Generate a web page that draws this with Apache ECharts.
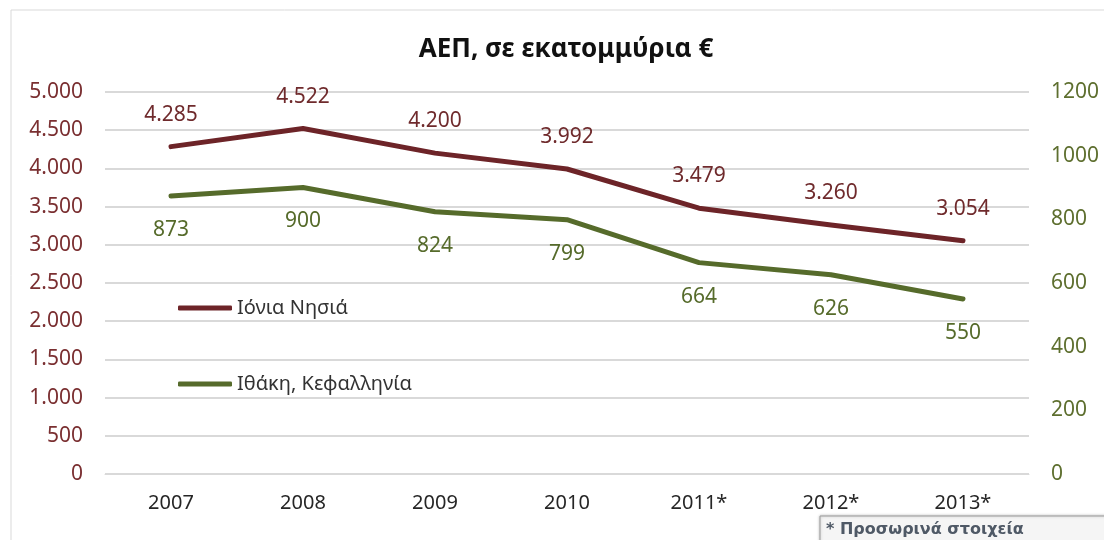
<!DOCTYPE html>
<html>
<head>
<meta charset="utf-8">
<script src="https://cdn.jsdelivr.net/npm/echarts@6/dist/echarts.min.js"></script>
<style>
    html, body { margin: 0; padding: 0; background: #fff; }
    #chart { width: 1104px; height: 540px; }
</style>
</head>
<body>
<div id="chart"></div>
<script>
// data
const years = ['2007', '2008', '2009', '2010', '2011*', '2012*', '2013*']
const ionianIslands = [4285, 4522, 4200, 3992, 3479, 3260, 3054]
const ithacaKefalonia = [873, 900, 824, 799, 664, 626, 550]
const seriesNames = ['Ιόνια Νησιά', 'Ιθάκη, Κεφαλληνία']
const titleText = 'ΑΕΠ, σε εκατομμύρια €'
const noteText = '* Προσωρινά στοιχεία'

const RED = '#6d2428'
const GREEN = '#566b2b'
const FONT = 'Noto Sans'

// 4285 -> 4.285
function dotted(v) {
    return String(v).replace(/\B(?=(\d{3})+(?!\d))/g, '.')
}

const chart = echarts.init(document.getElementById('chart'), null, { renderer: 'canvas' })

const legendBase = {
    left: 178,
    padding: 0,
    icon: 'roundRect',
    itemWidth: 54,
    itemHeight: 5,
    textStyle: { fontFamily: FONT, fontSize: 20, color: '#333', lineHeight: 22 },
}

const option = {
    animation: false,
    textStyle: { fontFamily: FONT },
    graphic: [
        {
            type: 'rect',
            silent: true,
            shape: { x: 11, y: 10, width: 1110, height: 560 },
            style: { fill: 'none', stroke: '#d9d9d9', lineWidth: 1 },
        },
        {
            type: 'text',
            x: 566,
            y: 50,
            style: {
                text: titleText,
                align: 'center',
                verticalAlign: 'middle',
                font: 'bold 26px "Noto Sans"',
                fill: '#111',
            },
        },
        {
            type: 'rect',
            silent: true,
            shape: { x: 820, y: 516, width: 300, height: 30 },
            style: {
                fill: '#f5f5f5',
                stroke: '#9c9c9c',
                lineWidth: 1,
                shadowColor: 'rgba(0,0,0,0.25)',
                shadowBlur: 3,
            },
        },
        {
            type: 'text',
            x: 826,
            y: 530,
            style: {
                text: noteText,
                verticalAlign: 'middle',
                font: 'bold 16px "DejaVu Sans"',
                fill: '#4f5966',
            },
        },
    ],
    legend: [
        Object.assign({}, legendBase, { top: 297, data: [seriesNames[0]] }),
        Object.assign({}, legendBase, { top: 373, data: [seriesNames[1]] }),
    ],
    grid: {
        left: 105,
        right: 75,
        top: 92,
        bottom: 66,
    },
    xAxis: {
        type: 'category',
        data: years,
        boundaryGap: true,
        axisLine: { show: true, lineStyle: { color: '#d9d9d9', width: 1 } },
        axisTick: { show: false },
        axisLabel: {
            color: '#262626',
            fontSize: 20,
            margin: 19,
        },
    },
    yAxis: [
        {
            type: 'value',
            min: 0,
            max: 5000,
            interval: 500,
            axisLine: { show: false },
            axisTick: { show: false },
            splitLine: { lineStyle: { color: '#d9d9d9', width: 2 } },
            axisLabel: {
                color: '#7a2f31',
                fontSize: 21,
                margin: 22,
                formatter: dotted,
            },
        },
        {
            type: 'value',
            min: 0,
            max: 1200,
            interval: 200,
            position: 'right',
            axisLine: { show: false },
            axisTick: { show: false },
            splitLine: { show: false },
            axisLabel: {
                color: '#5e6f2f',
                fontSize: 21,
                margin: 22,
                align: 'left',
                formatter: v => String(v),
            },
        },
    ],
    series: [
        {
            name: seriesNames[0],
            type: 'line',
            yAxisIndex: 0,
            data: ionianIslands,
            symbol: 'circle',
            symbolSize: 1,
            lineStyle: { color: RED, width: 5, cap: 'round', join: 'round' },
            itemStyle: { color: RED },
            label: {
                show: true,
                position: 'top',
                distance: 21,
                color: '#6f2a2c',
                fontSize: 21,
                formatter: p => dotted(p.value),
            },
        },
        {
            name: seriesNames[1],
            type: 'line',
            yAxisIndex: 1,
            data: ithacaKefalonia,
            symbol: 'circle',
            symbolSize: 1,
            lineStyle: { color: GREEN, width: 5, cap: 'round', join: 'round' },
            itemStyle: { color: GREEN },
            label: {
                show: true,
                position: 'bottom',
                distance: 23,
                color: '#566b2b',
                fontSize: 21,
            },
        },
    ],
}

chart.setOption(option)
</script>
</body>
</html>
